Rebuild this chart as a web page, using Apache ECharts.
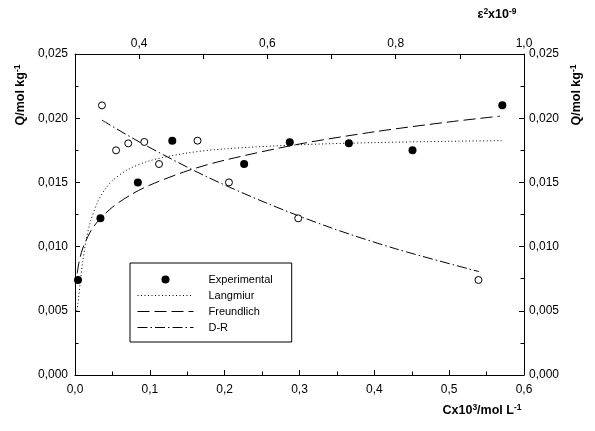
<!DOCTYPE html>
<html><head><meta charset="utf-8">
<script src="https://cdn.jsdelivr.net/npm/echarts@6/dist/echarts.min.js"></script>
<style>html,body{margin:0;padding:0;background:#fff}#c{width:595px;height:431px}</style>
</head><body><div id="c"></div>
<script>
// Experimental points (vs C, bottom axis)
const expC = [0.004, 0.034, 0.084, 0.130, 0.226, 0.287, 0.366, 0.451, 0.571];
const expQ = [0.0074, 0.0122, 0.0150, 0.01825, 0.01643, 0.01812, 0.01804, 0.0175, 0.0210];
// D-R data points (vs epsilon^2, top axis)
const drEps = [0.342, 0.364, 0.383, 0.408, 0.431, 0.491, 0.540, 0.648, 0.929];
const drQ = [0.0210, 0.0175, 0.01804, 0.01815, 0.01643, 0.01825, 0.0150, 0.0122, 0.0074];
// Langmiur curve
const langC = [0.0025, 0.004, 0.005, 0.007, 0.010, 0.015, 0.020, 0.030, 0.040, 0.050, 0.070, 0.100, 0.150, 0.200, 0.300, 0.400, 0.500, 0.570];
const langQ = [0.0050, 0.0056, 0.00610, 0.00720, 0.00870, 0.01053, 0.01181, 0.01345, 0.01445, 0.01513, 0.01598, 0.01669, 0.01729, 0.01761, 0.01793, 0.01810, 0.01820, 0.01825];
// Freundlich curve
const freuC = [0.003, 0.005, 0.010, 0.020, 0.030, 0.050, 0.075, 0.100, 0.150, 0.200, 0.300, 0.400, 0.500, 0.568];
const freuQ = [0.00791, 0.00867, 0.00981, 0.01110, 0.01193, 0.01307, 0.01405, 0.01479, 0.01590, 0.01673, 0.01799, 0.01894, 0.01971, 0.02016];
// D-R curve (vs epsilon^2)
const drLineEps = [0.342, 0.400, 0.500, 0.600, 0.700, 0.800, 0.930];
const drLineQ = [0.01985, 0.01816, 0.01557, 0.01336, 0.01145, 0.00983, 0.00805];
// Tick labels
const yTickValues = [0, 0.005, 0.010, 0.015, 0.020, 0.025];
const yTickLabels = ['0,000', '0,005', '0,010', '0,015', '0,020', '0,025'];
const xTickValues = [0, 0.1, 0.2, 0.3, 0.4, 0.5, 0.6];
const xTickLabels = ['0,0', '0,1', '0,2', '0,3', '0,4', '0,5', '0,6'];
const topTickValues = [0.4, 0.6, 0.8, 1.0];
const topTickLabels = ['0,4', '0,6', '0,8', '1,0'];
const legendNames = ['Experimental', 'Langmiur', 'Freundlich', 'D-R'];

const pts = (xs, ys) => xs.map((x, i) => [x, ys[i]]);
const lookup = (vals, labels) => v => {
  for (let i = 0; i < vals.length; i++) if (Math.abs(v - vals[i]) < 1e-7) return labels[i];
  return '';
};
const FONT = 'Liberation Sans, Arial, sans-serif';

function axis(extra) {
  return Object.assign({
    type: 'value',
    axisLine: { show: true, onZero: false, lineStyle: { color: '#000', width: 1 } },
    axisTick: { show: true, inside: true, length: 5, lineStyle: { color: '#000', width: 1 } },
    minorTick: { show: true, splitNumber: 2, length: 3.5, lineStyle: { color: '#000', width: 1 } },
    splitLine: { show: false },
    minorSplitLine: { show: false }
  }, extra);
}
const lbl = (fmt, margin) => ({ color: '#000', fontFamily: FONT, fontSize: 12, formatter: fmt, margin: margin, showMinLabel: true, showMaxLabel: true });

const chart = echarts.init(document.getElementById('c'), null, { renderer: 'canvas' });
const titleRich = {
  b: { fontFamily: FONT, fontSize: 12.5, fontWeight: 'bold', color: '#000', lineHeight: 16 },
  s: { fontFamily: FONT, fontSize: 8.5, fontWeight: 'bold', color: '#000', lineHeight: 9, verticalAlign: 'top' }
};
chart.setOption({
  animation: false,
  backgroundColor: '#fff',
  grid: { left: 75, right: 71, top: 54, bottom: 56, containLabel: false },
  xAxis: [
    axis({ position: 'bottom', min: 0, max: 0.6, interval: 0.1, axisLabel: lbl(lookup(xTickValues, xTickLabels), 9) }),
    axis({ position: 'top', min: 0.3, max: 1.0, interval: 0.1, minorTick: { show: false },
      axisLabel: lbl(lookup(topTickValues, topTickLabels), 4) })
  ],
  yAxis: [
    axis({ position: 'left', min: 0, max: 0.025, interval: 0.005, axisLabel: lbl(lookup(yTickValues, yTickLabels), 7) }),
    axis({ position: 'right', min: 0, max: 0.025, interval: 0.005, axisLabel: lbl(lookup(yTickValues, yTickLabels), 5) })
  ],
  legend: {
    orient: 'vertical', left: 130, top: 263,
    padding: [10, 19, 8, 7], itemGap: 3,
    itemWidth: 56, itemHeight: 8,
    borderColor: '#000', borderWidth: 1, borderRadius: 0, backgroundColor: '#fff',
    lineStyle: { width: 1 },
    textStyle: { fontFamily: FONT, fontSize: 11, color: '#000', lineHeight: 13, padding: [0, 0, 0, 10] },
    data: [
      { name: legendNames[0], icon: 'circle', itemStyle: { color: '#000', opacity: 1 } },
      { name: legendNames[1], itemStyle: { opacity: 0 } },
      { name: legendNames[2], itemStyle: { opacity: 0 } },
      { name: legendNames[3], itemStyle: { opacity: 0 } }
    ]
  },
  graphic: [
    { type: 'text', x: 21, y: 95, rotation: Math.PI / 2, style: { text: '{b|Q/mol kg}{s|-1}', rich: titleRich, align: 'center', verticalAlign: 'middle' } },
    { type: 'text', x: 577, y: 95, rotation: Math.PI / 2, style: { text: '{b|Q/mol kg}{s|-1}', rich: titleRich, align: 'center', verticalAlign: 'middle' } },
    { type: 'text', x: 482, y: 411, style: { text: '{b|Cx10}{s|3}{b|/mol L}{s|-1}', rich: titleRich, align: 'center', verticalAlign: 'middle' } },
    { type: 'text', x: 497, y: 15, style: { text: '{b|\u03b5}{s|2}{b|x10}{s|-9}', rich: titleRich, align: 'center', verticalAlign: 'middle' } }
  ],
  series: [
    { name: legendNames[1], type: 'line', xAxisIndex: 0, yAxisIndex: 0, data: pts(langC, langQ), smooth: 0.3,
      showSymbol: false, symbol: 'none', lineStyle: { color: '#000', width: 1, type: [1, 2.5] }, itemStyle: { color: '#000' }, z: 2 },
    { name: legendNames[2], type: 'line', xAxisIndex: 0, yAxisIndex: 0, data: pts(freuC, freuQ), smooth: 0.3,
      showSymbol: false, symbol: 'none', lineStyle: { color: '#000', width: 1, type: [12, 5] }, itemStyle: { color: '#000' }, z: 2 },
    { name: legendNames[3], type: 'line', xAxisIndex: 1, yAxisIndex: 0, data: pts(drLineEps, drLineQ), smooth: 0.3,
      showSymbol: false, symbol: 'none', lineStyle: { color: '#000', width: 1, type: [10, 3, 1.5, 3] }, itemStyle: { color: '#000' }, z: 2 },
    { name: legendNames[0], type: 'scatter', xAxisIndex: 0, yAxisIndex: 0, data: pts(expC, expQ), symbol: 'circle', symbolSize: 8,
      itemStyle: { color: '#000', opacity: 1 }, z: 3 },
    { name: 'D-R data', type: 'scatter', xAxisIndex: 1, yAxisIndex: 0, data: pts(drEps, drQ), symbol: 'circle', symbolSize: 7,
      itemStyle: { color: '#fff', borderColor: '#000', borderWidth: 1, opacity: 1 }, z: 3 }
  ]
});
</script></body></html>
